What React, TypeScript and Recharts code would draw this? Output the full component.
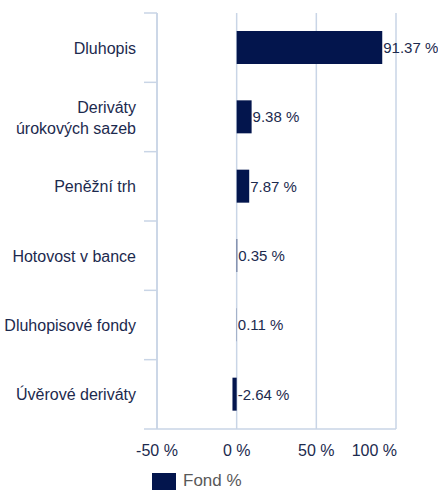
import { BarChart, Bar, XAxis, YAxis, CartesianGrid, LabelList, Legend } from 'recharts'

const categories = [
  'Dluhopis',
  'Deriváty\núrokových sazeb',
  'Peněžní trh',
  'Hotovost v bance',
  'Dluhopisové fondy',
  'Úvěrové deriváty',
]
const fondValues = [91.37, 9.38, 7.87, 0.35, 0.11, -2.64]
const xTicks = [-50, 0, 50, 100]
const seriesName = 'Fond %'

const FONT = '"Liberation Sans", Arial, sans-serif'
const BAR = '#03154d'
const TEXT = '#1c2a4e'
const GRID = '#c9d5e6'

const TOP = 13
const PLOT_H = 416
const BAND = PLOT_H / categories.length

const data = categories.map((name, i) => ({ name, fond: fondValues[i] }))

function YTick(props: any) {
  const { x, y, payload, index } = props
  const lines = String(payload.value).split('\n')
  const lh = 21
  const start = y - ((lines.length - 1) * lh) / 2
  return (
    <g>
      <line x1={x - 13} x2={x} y1={y - BAND / 2} y2={y - BAND / 2} stroke={GRID} strokeWidth={1.5} />
      {index === categories.length - 1 && (
        <line x1={x - 13} x2={x} y1={y + BAND / 2} y2={y + BAND / 2} stroke={GRID} strokeWidth={1.5} />
      )}
      <text x={x - 21} y={start} textAnchor="end" dominantBaseline="central" fill={TEXT} fontSize={16} fontFamily={FONT}>
        {lines.map((l, i) => (
          <tspan key={i} x={x - 21} dy={i === 0 ? 0 : lh}>
            {l}
          </tspan>
        ))}
      </text>
    </g>
  )
}

function XTick(props: any) {
  const { x, y, payload } = props
  const last = payload.value === xTicks[xTicks.length - 1]
  return (
    <text x={last ? x + 1 : x} y={y} dy={27} textAnchor={last ? 'end' : 'middle'} fill={TEXT} fontSize={16} fontFamily={FONT}>
      {`${payload.value} %`}
    </text>
  )
}

function ValueLabel(props: any) {
  const { x, y, width, height, value } = props
  const right = Math.max(x, x + width) + 1
  return (
    <text x={right} y={y + height / 2} dominantBaseline="central" fill={TEXT} fontSize={15} fontFamily={FONT}>
      {`${Number(value).toFixed(2)} %`}
    </text>
  )
}

function LegendContent(props: any) {
  const { payload } = props
  return (
    <div style={{ display: 'flex', alignItems: 'center', fontFamily: FONT }}>
      {(payload || []).map((p: any, i: number) => (
        <div key={i} style={{ display: 'flex', alignItems: 'center' }}>
          <span style={{ display: 'inline-block', width: 24, height: 17, background: BAR, marginRight: 7 }} />
          <span style={{ color: '#595959', fontSize: 17 }}>{p.value}</span>
        </div>
      ))}
    </div>
  )
}

export default function App() {
  return (
    <div style={{ position: 'fixed', top: 0, left: 0, width: 438, height: 492, background: '#fff' }}>
      <BarChart
        width={438}
        height={492}
        data={data}
        layout="vertical"
        margin={{ top: TOP, right: 42, bottom: 492 - TOP - PLOT_H - 30, left: 0 }}
        barSize={33}
      >
        <CartesianGrid horizontal={false} stroke={GRID} strokeWidth={1.5} />
        <XAxis
          type="number"
          domain={[-50, 100]}
          ticks={xTicks}
          height={30}
          tickLine={false}
          tickSize={0}
          tickMargin={0}
          axisLine={{ stroke: GRID, strokeWidth: 1.5 }}
          tick={<XTick />}
          interval={0}
        />
        <YAxis
          type="category"
          dataKey="name"
          width={157}
          tickLine={false}
          tickSize={0}
          tickMargin={0}
          axisLine={{ stroke: GRID, strokeWidth: 1.5 }}
          tick={<YTick />}
          interval={0}
        />
        <Legend
          layout="horizontal"
          verticalAlign="middle"
          align="center"
          wrapperStyle={{ top: 471, left: 152, width: 'auto' }}
          content={<LegendContent />}
        />
        <Bar dataKey="fond" name={seriesName} fill={BAR} isAnimationActive={false}>
          <LabelList dataKey="fond" content={<ValueLabel />} />
        </Bar>
      </BarChart>
    </div>
  )
}
